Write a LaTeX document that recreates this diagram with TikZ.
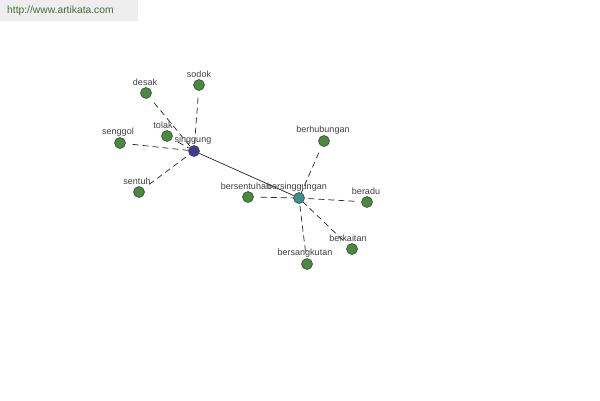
\documentclass[tikz,border=0pt]{standalone}
\usepackage{fontspec}
\setmainfont{Liberation Sans}
\begin{document}
\begin{tikzpicture}[x=1pt,y=-1pt,
  dot/.style={circle,draw=black!80,line width=0.5pt,minimum size=11pt,inner sep=0pt},
  leaf/.style={dot,fill=leafgreen},
  lbl/.style={font=\fontsize{9}{10}\selectfont,text=black!75,inner sep=0pt},
  dlink/.style={draw=black!85,line width=0.7pt,dash pattern=on 6pt off 4pt,shorten <=7pt},
  slink/.style={draw=black!85,line width=0.7pt}]
\definecolor{leafgreen}{HTML}{4A8A3C}
\definecolor{hubblue}{HTML}{3D3D99}
\definecolor{hubteal}{HTML}{3A9090}
\definecolor{wmgrey}{HTML}{EEEEEE}
\definecolor{wmtext}{HTML}{4A6A3A}
\useasboundingbox (0,0) rectangle (600,400);
\fill[white] (0,0) rectangle (600,400);
\fill[wmgrey] (0,0) rectangle (138,21);
\node[font=\fontsize{10.3}{11}\selectfont,text=wmtext,anchor=west,inner sep=0pt] (wm) at (7,11) {http://www.artikata.com};
% hubs
\node[dot,fill=hubblue] (singgung) at (194,151) {};
\node[dot,fill=hubteal] (bersinggungan) at (299,198) {};
% leaves
\node[leaf] (sodok) at (199,85) {};
\node[leaf] (desak) at (146,93) {};
\node[leaf] (tolak) at (167,136) {};
\node[leaf] (senggol) at (120,143) {};
\node[leaf] (sentuh) at (139,192) {};
\node[leaf] (berhubungan) at (324,141) {};
\node[leaf] (bersentuhan) at (248,197) {};
\node[leaf] (beradu) at (367,202) {};
\node[leaf] (berkaitan) at (352,249) {};
\node[leaf] (bersangkutan) at (307,264) {};
% edges
\draw[slink] (singgung) -- (bersinggungan);
\foreach \n in {sodok,desak,tolak,senggol,sentuh}
  \draw[dlink] (\n) -- (singgung);
\foreach \n in {berhubungan,bersentuhan,beradu,berkaitan,bersangkutan}
  \draw[dlink] (\n) -- (bersinggungan);
% labels
\node[lbl] (l-singgung) at (193,140) {singgung};
\node[lbl] (l-sodok) at (199,74) {sodok};
\node[lbl] (l-desak) at (145,82) {desak};
\node[lbl] (l-tolak) at (163,125) {tolak};
\node[lbl] (l-senggol) at (118,132) {senggol};
\node[lbl] (l-sentuh) at (137,181) {sentuh};
\node[lbl] (l-berhubungan) at (323,130) {berhubungan};
\node[lbl] (l-bersentuhan) at (246,186) {bersentuhan};
\node[lbl] (l-bersinggungan) at (297,187) {bersinggungan};
\node[lbl] (l-beradu) at (366,191) {beradu};
\node[lbl] (l-berkaitan) at (348,238) {berkaitan};
\node[lbl] (l-bersangkutan) at (305,253) {bersangkutan};
\end{tikzpicture}
\end{document}
